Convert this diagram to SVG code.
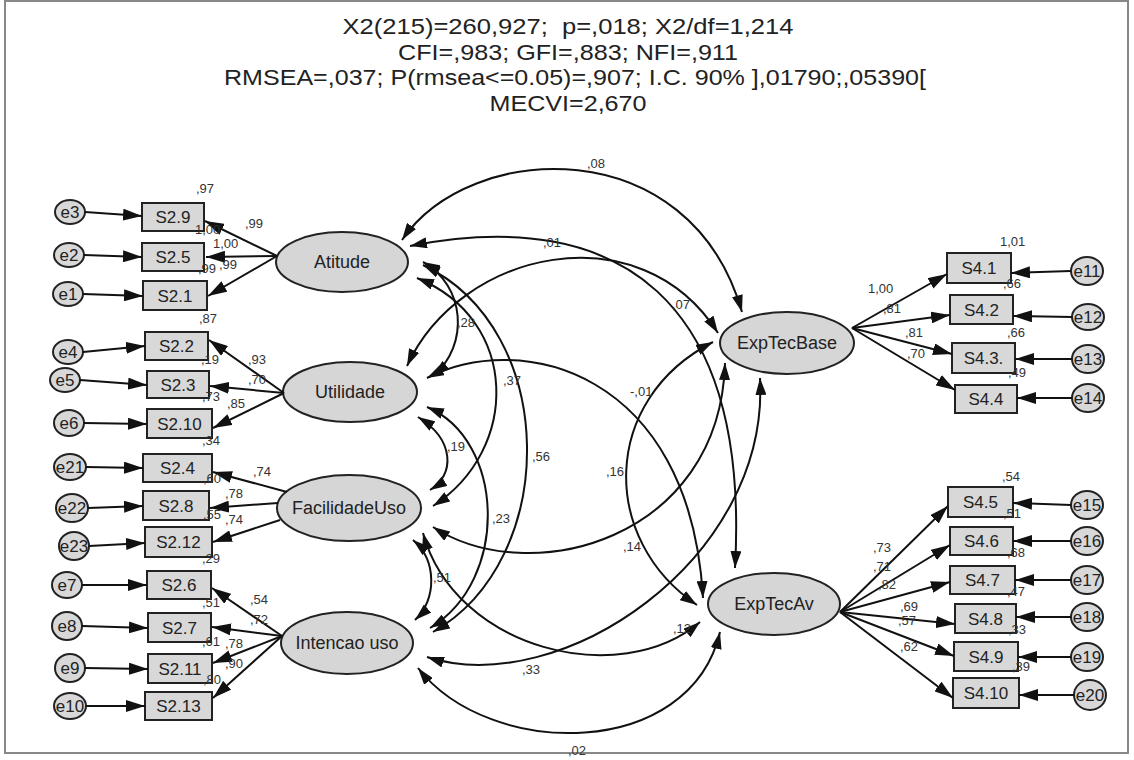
<svg xmlns="http://www.w3.org/2000/svg" width="1134" height="760" viewBox="0 0 1134 760">
<style>
.t{font-family:"Liberation Sans",Arial,sans-serif;fill:#222}
.title{font-size:22.5px;text-anchor:middle}
.nt{font-size:17px;text-anchor:middle}
.lt{font-size:18px;text-anchor:middle}
.et{font-size:17px;text-anchor:middle}
.lb{font-size:13px;fill:#333}
.box{fill:#d8d8d8;stroke:#222;stroke-width:2}
.lat{fill:#d6d6d6;stroke:#222;stroke-width:2}
.err{fill:#d8d8d8;stroke:#222;stroke-width:2}
.c{fill:none;stroke:#111;stroke-width:2}
.a{marker-end:url(#ab)}
.d{marker-start:url(#ah);marker-end:url(#ah)}
</style>
<defs>
<marker id="ah" viewBox="0 0 17 11" refX="17" refY="5.5" markerWidth="17" markerHeight="11" markerUnits="userSpaceOnUse" orient="auto-start-reverse"><path d="M0,0 L17,5.5 L0,11 z" fill="#111"/></marker>
<marker id="ab" viewBox="0 0 19 12" refX="19" refY="6" markerWidth="19" markerHeight="12" markerUnits="userSpaceOnUse" orient="auto"><path d="M0,0 L19,6 L0,12 z" fill="#111"/></marker>
</defs>
<rect x="0" y="0" width="1134" height="760" fill="#fff"/>
<rect x="5" y="1" width="1123" height="752" fill="none" stroke="#888" stroke-width="2"/>
<g id="title" class="t title">
<text x="568" y="34" xml:space="preserve" textLength="451" lengthAdjust="spacingAndGlyphs">X2(215)=260,927;  p=,018; X2/df=1,214</text>
<text x="568" y="59.5" textLength="340" lengthAdjust="spacingAndGlyphs">CFI=,983; GFI=,883; NFI=,911</text>
<text x="575" y="85" textLength="702" lengthAdjust="spacingAndGlyphs">RMSEA=,037; P(rmsea&lt;=0.05)=,907; I.C. 90% ],01790;,05390[</text>
<text x="568" y="110.5" textLength="157" lengthAdjust="spacingAndGlyphs">MECVI=2,670</text>
</g>
<g id="Atitude"><ellipse class="lat" cx="342" cy="262" rx="66" ry="30"/><text class="t lt" x="342" y="268">Atitude</text></g>
<g id="Utilidade"><ellipse class="lat" cx="350" cy="392" rx="67" ry="30"/><text class="t lt" x="350" y="398">Utilidade</text></g>
<g id="FacilidadeUso"><ellipse class="lat" cx="349" cy="508" rx="72" ry="33"/><text class="t lt" x="349" y="514">FacilidadeUso</text></g>
<g id="IntencaoUso"><ellipse class="lat" cx="347" cy="643" rx="66" ry="31"/><text class="t lt" x="347" y="649">Intencao uso</text></g>
<g id="ExpTecBase"><ellipse class="lat" cx="787" cy="343" rx="67" ry="31"/><text class="t lt" x="787" y="349">ExpTecBase</text></g>
<g id="ExpTecAv"><ellipse class="lat" cx="774" cy="604" rx="66" ry="31"/><text class="t lt" x="774" y="610">ExpTecAv</text></g>
<g id="S2_9"><rect class="box" x="142" y="203" width="62" height="28"/><text class="t nt" x="173" y="223">S2.9</text></g>
<g id="S2_5"><rect class="box" x="142" y="243" width="62" height="28"/><text class="t nt" x="173" y="263">S2.5</text></g>
<g id="S2_1"><rect class="box" x="143" y="281" width="64" height="29"/><text class="t nt" x="175" y="302">S2.1</text></g>
<g id="S2_2"><rect class="box" x="145" y="332" width="63" height="28"/><text class="t nt" x="176.5" y="352">S2.2</text></g>
<g id="S2_3"><rect class="box" x="147" y="371" width="62" height="27"/><text class="t nt" x="178" y="391">S2.3</text></g>
<g id="S2_10"><rect class="box" x="147" y="409" width="65" height="29"/><text class="t nt" x="179.5" y="430">S2.10</text></g>
<g id="S2_4"><rect class="box" x="143" y="454" width="69" height="28"/><text class="t nt" x="177.5" y="474">S2.4</text></g>
<g id="S2_8"><rect class="box" x="143" y="491" width="66" height="29"/><text class="t nt" x="176" y="512">S2.8</text></g>
<g id="S2_12"><rect class="box" x="145" y="527" width="67" height="30"/><text class="t nt" x="178.5" y="548">S2.12</text></g>
<g id="S2_6"><rect class="box" x="147" y="571" width="64" height="28"/><text class="t nt" x="179" y="591">S2.6</text></g>
<g id="S2_7"><rect class="box" x="148" y="613" width="63" height="29"/><text class="t nt" x="179.5" y="634">S2.7</text></g>
<g id="S2_11"><rect class="box" x="148" y="654" width="64" height="29"/><text class="t nt" x="180" y="675">S2.11</text></g>
<g id="S2_13"><rect class="box" x="145" y="692" width="67" height="28"/><text class="t nt" x="178.5" y="712">S2.13</text></g>
<g id="S4_1"><rect class="box" x="947" y="253" width="64" height="30"/><text class="t nt" x="979" y="274">S4.1</text></g>
<g id="S4_2"><rect class="box" x="950" y="295" width="63" height="29"/><text class="t nt" x="981.5" y="316">S4.2</text></g>
<g id="S4_3"><rect class="box" x="952" y="343" width="63" height="30"/><text class="t nt" x="983.5" y="364">S4.3.</text></g>
<g id="S4_4"><rect class="box" x="955" y="385" width="62" height="28"/><text class="t nt" x="986" y="405">S4.4</text></g>
<g id="S4_5"><rect class="box" x="948" y="487" width="65" height="30"/><text class="t nt" x="980.5" y="508">S4.5</text></g>
<g id="S4_6"><rect class="box" x="950" y="527" width="63" height="28"/><text class="t nt" x="981.5" y="547">S4.6</text></g>
<g id="S4_7"><rect class="box" x="950" y="566" width="65" height="28"/><text class="t nt" x="982.5" y="586">S4.7</text></g>
<g id="S4_8"><rect class="box" x="955" y="604" width="61" height="29"/><text class="t nt" x="985.5" y="625">S4.8</text></g>
<g id="S4_9"><rect class="box" x="954" y="642" width="64" height="29"/><text class="t nt" x="986" y="663">S4.9</text></g>
<g id="S4_10"><rect class="box" x="953" y="678" width="66" height="30"/><text class="t nt" x="986" y="699">S4.10</text></g>
<g id="e3"><ellipse class="err" cx="70" cy="212" rx="15" ry="12"/><text class="t et" x="70" y="218">e3</text></g>
<g id="e2"><ellipse class="err" cx="69" cy="255" rx="15" ry="12"/><text class="t et" x="69" y="261">e2</text></g>
<g id="e1"><ellipse class="err" cx="68" cy="294" rx="15" ry="12"/><text class="t et" x="68" y="300">e1</text></g>
<g id="e4"><ellipse class="err" cx="68" cy="352" rx="15" ry="12"/><text class="t et" x="68" y="358">e4</text></g>
<g id="e5"><ellipse class="err" cx="65" cy="380" rx="15" ry="12"/><text class="t et" x="65" y="386">e5</text></g>
<g id="e6"><ellipse class="err" cx="69" cy="423" rx="15" ry="13"/><text class="t et" x="69" y="429">e6</text></g>
<g id="e21"><ellipse class="err" cx="70" cy="467" rx="16" ry="13"/><text class="t et" x="70" y="473">e21</text></g>
<g id="e22"><ellipse class="err" cx="72" cy="508" rx="16" ry="14"/><text class="t et" x="72" y="514">e22</text></g>
<g id="e23"><ellipse class="err" cx="74" cy="546" rx="15" ry="14"/><text class="t et" x="74" y="552">e23</text></g>
<g id="e7"><ellipse class="err" cx="67" cy="585" rx="15" ry="13"/><text class="t et" x="67" y="591">e7</text></g>
<g id="e8"><ellipse class="err" cx="67" cy="626" rx="15" ry="14"/><text class="t et" x="67" y="632">e8</text></g>
<g id="e9"><ellipse class="err" cx="70" cy="668" rx="15" ry="14"/><text class="t et" x="70" y="674">e9</text></g>
<g id="e10"><ellipse class="err" cx="70" cy="706" rx="16" ry="13"/><text class="t et" x="70" y="712">e10</text></g>
<g id="e11"><ellipse class="err" cx="1087" cy="271" rx="16" ry="14"/><text class="t et" x="1087" y="277">e11</text></g>
<g id="e12"><ellipse class="err" cx="1088" cy="317" rx="16" ry="13"/><text class="t et" x="1088" y="323">e12</text></g>
<g id="e13"><ellipse class="err" cx="1088" cy="359" rx="16" ry="14"/><text class="t et" x="1088" y="365">e13</text></g>
<g id="e14"><ellipse class="err" cx="1088" cy="398" rx="16" ry="14"/><text class="t et" x="1088" y="404">e14</text></g>
<g id="e15"><ellipse class="err" cx="1087" cy="505" rx="16" ry="14"/><text class="t et" x="1087" y="511">e15</text></g>
<g id="e16"><ellipse class="err" cx="1087" cy="541" rx="16" ry="14"/><text class="t et" x="1087" y="547">e16</text></g>
<g id="e17"><ellipse class="err" cx="1087" cy="580" rx="16" ry="14"/><text class="t et" x="1087" y="586">e17</text></g>
<g id="e18"><ellipse class="err" cx="1087" cy="617" rx="16" ry="14"/><text class="t et" x="1087" y="623">e18</text></g>
<g id="e19"><ellipse class="err" cx="1087" cy="657" rx="16" ry="14"/><text class="t et" x="1087" y="663">e19</text></g>
<g id="e20"><ellipse class="err" cx="1090" cy="695" rx="16" ry="15"/><text class="t et" x="1090" y="701">e20</text></g>
<g id="connectors">
<g class="c a">
<line x1="85" y1="212" x2="142" y2="216"/>
<line x1="84" y1="255" x2="142" y2="257"/>
<line x1="83" y1="294" x2="143" y2="296"/>
<line x1="83" y1="352" x2="145" y2="346"/>
<line x1="80" y1="380" x2="147" y2="385"/>
<line x1="84" y1="423" x2="147" y2="424"/>
<line x1="86" y1="467" x2="143" y2="468"/>
<line x1="88" y1="508" x2="143" y2="506"/>
<line x1="89" y1="546" x2="145" y2="543"/>
<line x1="82" y1="585" x2="147" y2="585"/>
<line x1="82" y1="626" x2="148" y2="628"/>
<line x1="85" y1="668" x2="148" y2="669"/>
<line x1="86" y1="706" x2="145" y2="706"/>
<line x1="277" y1="256" x2="205" y2="221"/>
<line x1="277" y1="256" x2="206" y2="257"/>
<line x1="277" y1="256" x2="208" y2="296"/>
<line x1="284" y1="393" x2="209" y2="340"/>
<line x1="284" y1="393" x2="210" y2="386"/>
<line x1="284" y1="393" x2="213" y2="428"/>
<line x1="287" y1="492" x2="213" y2="472"/>
<line x1="278" y1="503" x2="210" y2="508"/>
<line x1="280" y1="520" x2="213" y2="542"/>
<line x1="282" y1="636" x2="212" y2="588"/>
<line x1="282" y1="636" x2="212" y2="627"/>
<line x1="282" y1="636" x2="213" y2="663"/>
<line x1="282" y1="636" x2="213" y2="698"/>
<line x1="852" y1="328" x2="947" y2="274"/>
<line x1="852" y1="328" x2="950" y2="315"/>
<line x1="852" y1="328" x2="952" y2="354"/>
<line x1="852" y1="328" x2="955" y2="390"/>
<line x1="840" y1="612" x2="948" y2="506"/>
<line x1="840" y1="612" x2="950" y2="545"/>
<line x1="840" y1="612" x2="950" y2="582"/>
<line x1="840" y1="612" x2="955" y2="624"/>
<line x1="840" y1="612" x2="954" y2="656"/>
<line x1="840" y1="612" x2="953" y2="698"/>
<line x1="1071" y1="271" x2="1011" y2="273"/>
<line x1="1072" y1="317" x2="1013" y2="316"/>
<line x1="1072" y1="359" x2="1015" y2="359"/>
<line x1="1072" y1="398" x2="1017" y2="398"/>
<line x1="1071" y1="505" x2="1013" y2="503"/>
<line x1="1071" y1="541" x2="1013" y2="541"/>
<line x1="1071" y1="580" x2="1015" y2="580"/>
<line x1="1071" y1="617" x2="1016" y2="617"/>
<line x1="1071" y1="657" x2="1018" y2="657"/>
<line x1="1074" y1="695" x2="1019" y2="695"/>
</g>
<g class="c d">
<path d="M402,240 C470,140 690,130 742,312"/>
<path d="M410,246 C620,205 750,300 735,568"/>
<path d="M423,262 C465,285 470,345 433,376"/>
<path d="M417,278 C520,320 520,450 433,506"/>
<path d="M423,265 C560,330 560,560 433,632"/>
<path d="M407,366 C460,250 640,210 718,333"/>
<path d="M427,378 C520,330 690,370 703,598"/>
<path d="M418,417 C455,440 455,475 430,490"/>
<path d="M427,407 C505,440 510,580 430,628"/>
<path d="M413,540 C437,560 437,600 415,620"/>
<path d="M433,527 C530,590 720,540 725,363"/>
<path d="M423,533 C455,650 620,690 700,622"/>
<path d="M427,657 C560,700 770,560 760,378"/>
<path d="M418,668 C490,760 690,760 720,632"/>
<path d="M713,342 C600,400 600,540 697,605"/>
</g>
<g class="t lb">
<text x="196" y="193">,97</text><text x="245" y="228">,99</text><text x="195" y="234">1,00</text><text x="213" y="248">1,00</text>
<text x="198" y="273">,99</text><text x="219" y="269">,99</text><text x="199" y="323">,87</text>
<text x="248" y="364">,93</text><text x="201" y="364">,19</text><text x="248" y="384">,70</text><text x="202" y="401">,73</text>
<text x="227" y="408">,85</text><text x="202" y="445">,34</text><text x="253" y="476">,74</text><text x="203" y="483">,60</text>
<text x="225" y="498">,78</text><text x="203" y="519">,55</text><text x="225" y="524">,74</text><text x="202" y="563">,29</text>
<text x="250" y="604">,54</text><text x="202" y="607">,51</text><text x="250" y="624">,72</text><text x="202" y="646">,61</text>
<text x="225" y="648">,78</text><text x="225" y="668">,90</text><text x="203" y="684">,80</text>
<text x="1000" y="246">1,01</text><text x="868" y="293">1,00</text><text x="883" y="313">,81</text><text x="1003" y="288">,66</text>
<text x="905" y="337">,81</text><text x="1007" y="337">,66</text><text x="907" y="358">,70</text><text x="1008" y="377">,49</text>
<text x="1002" y="481">,54</text><text x="1003" y="518">,51</text><text x="873" y="552">,73</text><text x="873" y="571">,71</text>
<text x="1007" y="557">,68</text><text x="878" y="589">,82</text><text x="1007" y="596">,47</text><text x="900" y="611">,69</text>
<text x="898" y="625">,57</text><text x="1008" y="634">,33</text><text x="900" y="651">,62</text><text x="1012" y="671">,39</text>
<text x="587" y="168">,08</text><text x="543" y="247">,01</text><text x="672" y="309">,07</text><text x="457" y="327">,28</text>
<text x="503" y="385">,37</text><text x="630" y="396">-,01</text><text x="447" y="451">,19</text><text x="532" y="461">,56</text>
<text x="606" y="476">,16</text><text x="492" y="523">,23</text><text x="623" y="551">,14</text><text x="433" y="582">,51</text>
<text x="673" y="633">,12</text><text x="522" y="674">,33</text><text x="568" y="755">,02</text>
</g>
</g>
</svg>
